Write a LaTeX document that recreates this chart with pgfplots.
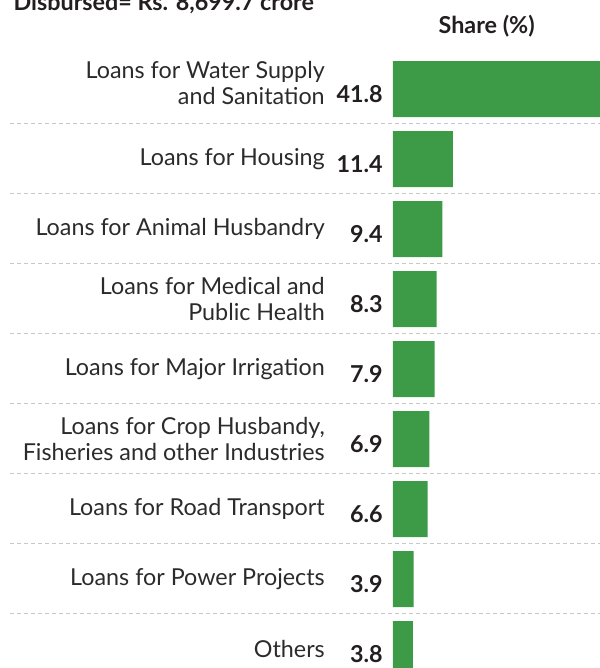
\documentclass[border=0pt]{standalone}
\usepackage{fontspec}
\setmainfont{Lato}
\usepackage{pgfplots}
\usepackage{pgfplotstable}
\pgfplotsset{compat=1.18}
\definecolor{barg}{HTML}{3D9A46}
\definecolor{txt}{HTML}{231F20}
\definecolor{lab}{HTML}{2B2B2B}
\definecolor{sep}{HTML}{C8C8C8}
\pgfplotstableread{
row share
0 41.8
1 11.4
2 9.4
3 8.3
4 7.9
5 6.9
6 6.6
7 3.9
8 3.8
}\sharetable
\begin{document}
\begin{tikzpicture}
\useasboundingbox (0,0) rectangle (450pt,-501pt);
\clip (0,0) rectangle (450pt,-501pt);
\node[anchor=base west, font=\bfseries\fontsize{17.5}{20}\selectfont, text=txt, inner sep=0] at (10pt,-7.5pt) {Disbursed= Rs. 8,699.7 crore};
\node[anchor=base, font=\bfseries\fontsize{17.5}{20}\selectfont, text=txt, inner sep=0] at (365pt,-25pt) {Share (\%)};
\foreach \k in {0,...,7} \draw[sep, line width=0.75pt, dash pattern=on 3pt off 2.25pt] (7.5pt,{-(123+70*\k)*0.75pt}) -- (450pt,{-(123+70*\k)*0.75pt});
\begin{axis}[
 at={(294.75pt,-66.75pt)}, anchor=origin,
 x=3.945pt, y=52.5pt, y dir=reverse,
 xmin=0, xmax=45, ymin=-0.5, ymax=8.5,
 axis line style={draw=none}, major tick length=0pt, xtick=\empty,
 ytick={0,...,8},
 yticklabels={{Loans for Water Supply\\and Sanitation},{Loans for Housing},{Loans for Animal Husbandry},{Loans for Medical and\\Public Health},{Loans for Major Irrigation},{Loans for Crop Husbandy,\\Fisheries and other Industries},{Loans for Road Transport},{Loans for Power Projects},{Others}},
 yticklabel style={align=right, anchor=east, inner sep=0pt, xshift=-51pt, yshift={ifthenelse(\ticknum==0,4.5,0)*1pt}, font=\fontsize{17.5}{19.5}\selectfont, text=lab},
 clip=false,
 /pgf/number format/assume math mode=true,
]
\addplot[xbar, bar shift=0pt, bar width=42pt, fill=barg, draw=none] table[x=share, y=row] {\sharetable};
\addplot[draw=none, mark=none, point meta=explicit,
  nodes near coords={\pgfmathprintnumber[fixed,fixed zerofill,precision=1]{\pgfplotspointmeta}},
  every node near coord/.append style={font=\bfseries\fontsize{17.5}{20}\selectfont, text=txt, anchor=east, inner sep=0pt, yshift=-3.5pt}]
  table[x expr=-1.9, y=row, meta=share] {\sharetable};
\end{axis}
\end{tikzpicture}
\end{document}
